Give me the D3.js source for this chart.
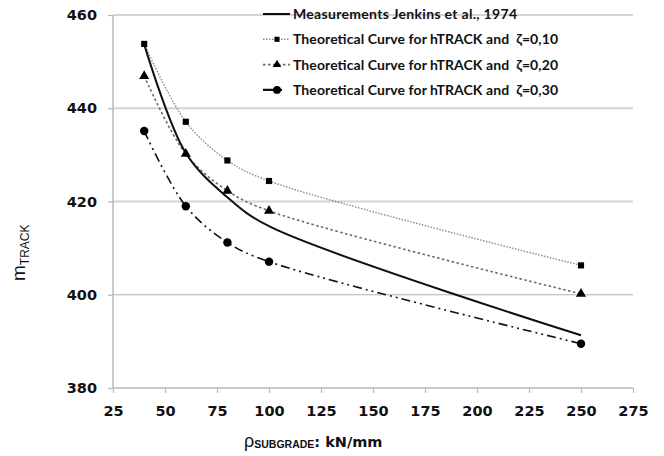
<!DOCTYPE html>
<html><head><meta charset="utf-8">
<script src="https://cdn.jsdelivr.net/npm/d3@7"></script>
<style>
html,body{margin:0;padding:0;background:#fff;}
svg{display:block;}
text{white-space:pre;}
</style></head>
<body>
<svg id="c" width="664" height="456"></svg>
<script>
// ---- data ----
const xTicks = [25,50,75,100,125,150,175,200,225,250,275];
const yTicks = [380,400,420,440,460];
const measX = [40,60,80,100,250];
const measY = [453.7,430.4,420.9,414.7,391.3];
const theoX = [40,60,80,100,250];
const zeta10 = [453.8,437.1,428.8,424.4,406.3];
const zeta20 = [446.9,430.2,422.3,418.0,400.2];
const zeta30 = [435.1,419.0,411.2,407.1,389.5];
const legendLabels = [
  "Measurements Jenkins et al., 1974",
  "Theoretical Curve for hTRACK and  \u03b6=0,10",
  "Theoretical Curve for hTRACK and  \u03b6=0,20",
  "Theoretical Curve for hTRACK and  \u03b6=0,30"
];

const AR = "'Liberation Sans', Arial, sans-serif";
const DV = "'DejaVu Sans', sans-serif";
const svg = d3.select("#c");
const x = d3.scaleLinear().domain([25,275]).range([113,633]);
const y = d3.scaleLinear().domain([380,460]).range([388,15]);

// gridlines
svg.append("g").selectAll("line").data(yTicks.filter(v=>v>380)).join("line")
  .attr("x1",113).attr("x2",633)
  .attr("y1",d=>y(d)).attr("y2",d=>y(d))
  .attr("stroke",d=>d===400?"#b0b0b0":"#d4d4d4")
  .attr("stroke-width",d=>d===400?1.2:2.2);

// axes
const yAxis = d3.axisLeft(y).tickValues(yTicks).tickSize(5).tickPadding(9).tickFormat(d3.format("d"));
const gy = svg.append("g").attr("transform","translate(113,0)").call(yAxis);
const xAxis = d3.axisBottom(x).tickValues(xTicks).tickSize(5).tickPadding(13).tickFormat(d3.format("d"));
const gx = svg.append("g").attr("transform","translate(0,388)").call(xAxis);
[gx,gy].forEach(g=>{
  g.attr("font-family",DV).attr("font-size",14.5).attr("font-weight","bold");
  g.select(".domain").attr("stroke","#b8b8b8").attr("stroke-width",1.5);
  g.selectAll(".tick line").attr("stroke","#b8b8b8").attr("stroke-width",1.2);
  g.selectAll(".tick text").attr("fill","#111");
});
gy.selectAll(".tick text").attr("dx",-2);
gy.select(".domain").attr("d","M0,15V388");
gx.select(".domain").attr("d","M113,0H633");

// lines
const line = d3.line().x(d=>x(d[0])).y(d=>y(d[1])).curve(d3.curveCatmullRom.alpha(0.5));
const series = [
  {xs:theoX, ys:zeta10, stroke:"#8a8a8a", w:1.4, dash:"1.5,1.5", marker:"square"},
  {xs:theoX, ys:zeta20, stroke:"#6a6a6a", w:1.6, dash:"2.5,2.5", marker:"triangle"},
  {xs:theoX, ys:zeta30, stroke:"#111", w:1.6, dash:"9,4,2,4,2,4", marker:"circle"},
  {xs:measX, ys:measY, stroke:"#111", w:2, dash:null, marker:null}
];
const sym = {square:d3.symbol().type(d3.symbolSquare).size(38),
             triangle:d3.symbol().type(d3.symbolTriangle).size(44),
             circle:d3.symbol().type(d3.symbolCircle).size(56)};
series.forEach(s=>{
  const pts = s.xs.map((v,i)=>[v,s.ys[i]]);
  svg.append("path").datum(pts).attr("d",line).attr("fill","none")
    .attr("stroke",s.stroke).attr("stroke-width",s.w)
    .attr("stroke-dasharray",s.dash);
});
series.forEach(s=>{
  if(!s.marker) return;
  const pts = s.xs.map((v,i)=>[v,s.ys[i]]);
  svg.append("g").selectAll("path").data(pts).join("path")
    .attr("d",sym[s.marker]).attr("fill","#000")
    .attr("transform",d=>`translate(${x(d[0])},${y(d[1])})`);
});

// legend
const legOrder = [3,0,1,2];
const legLen = [224,265,265,265];
const smallSym = {square:d3.symbol().type(d3.symbolSquare).size(26),
  triangle:d3.symbol().type(d3.symbolTriangle).size(32),
  circle:d3.symbol().type(d3.symbolCircle).size(48)};
const lg = svg.append("g");
legOrder.forEach((si,i)=>{
  const s = series[si];
  const cy = 14 + i*25.3;
  const g = lg.append("g");
  g.append("line").attr("x1",263).attr("x2",290).attr("y1",cy).attr("y2",cy)
    .attr("stroke",s.stroke).attr("stroke-width",s.w+ (si===2?0.8:0))
    .attr("stroke-dasharray",s.dash ? (si===2?"14,3,2,20":s.dash) : null);
  if(s.marker){
    g.append("path").attr("d",smallSym[s.marker]).attr("fill","#000")
      .attr("transform",`translate(277,${cy})`);
  }
  g.append("text").attr("x",293).attr("y",cy+5)
    .attr("font-family","Lato, 'Liberation Sans', sans-serif").attr("font-size",14)
    .attr("font-weight","bold").attr("fill","#111")
    .attr("textLength",legLen[i]).attr("lengthAdjust","spacing")
    .text(legendLabels[i]);
});

// axis titles
const yt = svg.append("text").attr("transform","translate(25,281) rotate(-90)")
  .attr("fill","#111").attr("font-family",AR);
yt.append("tspan").attr("font-size",19).text("m");
yt.append("tspan").attr("font-size",12).attr("dy",4).text("TRACK");

const xt = svg.append("text").attr("x",244).attr("y",447)
  .attr("fill","#111").attr("font-family",AR);
xt.append("tspan").attr("font-size",18).text("\u03c1");
xt.append("tspan").attr("font-size",10.5).attr("font-weight","bold").attr("dy",1).text("SUBGRADE");
xt.append("tspan").attr("font-family",DV).attr("font-size",14.5).attr("font-weight","bold").attr("dy",-1).text(": kN/mm");
</script>
</body></html>
